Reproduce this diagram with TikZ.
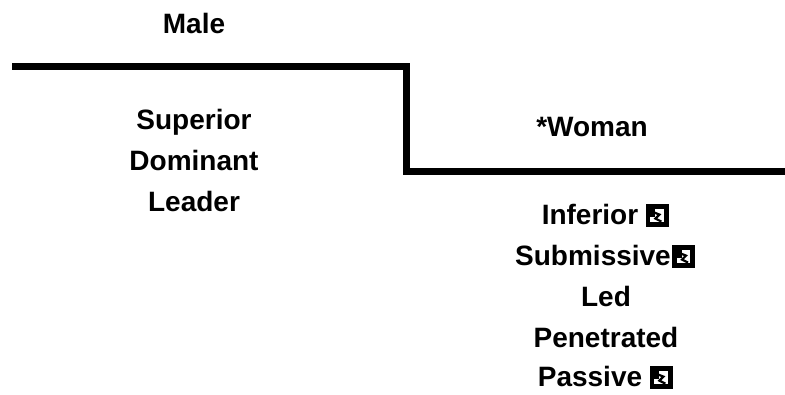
\documentclass[tikz,border=0pt]{standalone}
\usepackage{fontspec}
\setmainfont{Liberation Sans}
\usetikzlibrary{positioning}
\tikzset{
	word/.style={font=\fontsize{28}{30}\selectfont\bfseries, inner sep=0pt, anchor=base},
	brokenimg/.style={fill=black, minimum size=23pt, inner sep=0pt, anchor=south west}
}
\newcommand{\imgmark}[1]{%
	\fill[white] ([shift={(5pt,5pt)}]#1.south west) rectangle ([shift={(-5pt,-5pt)}]#1.north east);
	\fill[black] ([shift={(5pt,-5pt)}]#1.north west) rectangle ([shift={(10pt,-13pt)}]#1.north west);
	\draw[black, line width=2.2pt] ([shift={(9pt,-9pt)}]#1.north west) -- ([shift={(14pt,-11pt)}]#1.north west) -- ([shift={(10pt,-15pt)}]#1.north west) -- ([shift={(16pt,-18pt)}]#1.north west);
}
\begin{document}
\begin{tikzpicture}[x=1pt,y=1pt]
	\useasboundingbox (0,0) rectangle (785,395);
	\draw[black, line width=7pt, miter limit=10] (12,328)--(406,328)--(406,223)--(785,223);
	% left side
	\node[word] (male) at (194,361) {Male};
	\node[word] (superior) at (194,265) {Superior};
	\node[word] (dominant) at (194,224) {Dominant};
	\node[word] (leader) at (194,183) {Leader};
	% right side
	\node[word] (woman) at (592,258) {*Woman};
	\node[word] (inferior) at (590,170) {Inferior};
	\node[word] (submissive) at (593,129) {Submissive};
	\node[word] (led) at (606,88) {Led};
	\node[word] (penetrated) at (606,47) {Penetrated};
	\node[word] (passive) at (590,8) {Passive};
	\node[brokenimg] (img1) at ([xshift=7pt,yshift=-2pt]inferior.base east) {};
	\node[brokenimg] (img2) at ([xshift=1pt,yshift=-2pt]submissive.base east) {};
	\node[brokenimg] (img3) at ([xshift=7pt,yshift=-2pt]passive.base east) {};
	\imgmark{img1}
	\imgmark{img2}
	\imgmark{img3}
\end{tikzpicture}
\end{document}
